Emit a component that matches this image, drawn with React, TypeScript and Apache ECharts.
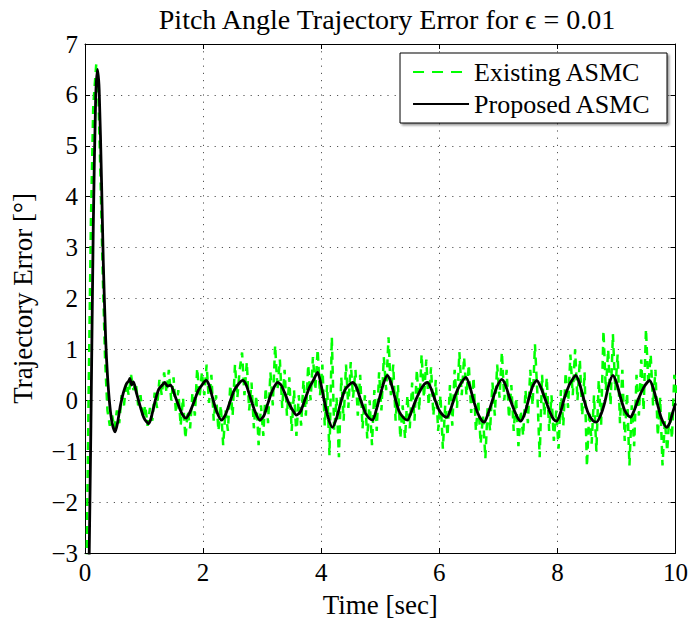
import React, { useEffect, useRef } from "react";
import * as echarts from "echarts";

const FONT = "Times New Roman";

const xRange = [0, 10];
const yRange = [-3, 7];
const xStep = 2;
const yStep = 1;

const seriesNames = ["Existing ASMC", "Proposed ASMC"];
const xName = "Time [sec]";
const yName = "Trajectory Error [\u00b0]";
const titleText = "Pitch Angle Trajectory Error for \u03f5 = 0.01";

// Proposed ASMC (black solid)
const proposedTime = [
  0.06, 0.10, 0.14, 0.18, 0.21, 0.24, 0.28, 0.31, 0.35, 0.38, 0.42, 0.46, 0.51, 0.55, 0.60, 0.65, 0.70, 0.74, 0.76, 0.79,
  0.82, 0.87, 0.93, 1.00, 1.08, 1.13, 1.19, 1.25, 1.31, 1.35, 1.40, 1.45, 1.52, 1.60, 1.66, 1.71, 1.77, 1.84, 1.92, 1.98,
  2.05, 2.10, 2.16, 2.23, 2.31, 2.38, 2.45, 2.52, 2.60, 2.67, 2.73, 2.80, 2.88, 2.96, 3.03, 3.10, 3.17, 3.26, 3.32, 3.38,
  3.45, 3.52, 3.58, 3.65, 3.72, 3.80, 3.87, 3.94, 3.99, 4.05, 4.12, 4.19, 4.26, 4.33, 4.40, 4.47, 4.53, 4.60, 4.67, 4.75,
  4.81, 4.87, 4.93, 5.00, 5.06, 5.12, 5.18, 5.25, 5.32, 5.40, 5.46, 5.52, 5.60, 5.68, 5.75, 5.80, 5.87, 5.93, 6.00, 6.07,
  6.13, 6.20, 6.27, 6.35, 6.45, 6.51, 6.58, 6.65, 6.72, 6.76, 6.83, 6.90, 6.97, 7.06, 7.12, 7.19, 7.27, 7.33, 7.38, 7.45,
  7.52, 7.59, 7.65, 7.72, 7.80, 7.88, 7.94, 7.99, 8.05, 8.12, 8.20, 8.26, 8.31, 8.37, 8.44, 8.52, 8.60, 8.66, 8.73, 8.80,
  8.87, 8.94, 9.00, 9.07, 9.14, 9.20, 9.24, 9.30, 9.38, 9.46, 9.52, 9.56, 9.62, 9.69, 9.76, 9.85, 9.90, 9.95, 10.0,
];
const proposedValue = [
  -4.0, -0.5, 3.4, 5.9, 6.5, 6.1, 4.3, 2.7, 1.2, 0.5, -0.1, -0.45, -0.62, -0.45, -0.1, 0.15, 0.32, 0.38, 0.43, 0.3,
  0.36, 0.15, -0.1, -0.35, -0.46, -0.3, 0.0, 0.22, 0.3, 0.35, 0.28, 0.3, 0.1, -0.15, -0.3, -0.35, -0.25, -0.05, 0.2, 0.3,
  0.39, 0.3, 0.05, -0.22, -0.39, -0.28, -0.05, 0.18, 0.32, 0.39, 0.3, 0.05, -0.22, -0.39, -0.3, -0.05, 0.18, 0.35, 0.3, 0.15,
  -0.05, -0.2, -0.29, -0.22, 0.0, 0.25, 0.4, 0.55, 0.35, 0.0, -0.35, -0.53, -0.35, -0.05, 0.2, 0.3, 0.35, 0.25, 0.0, -0.25,
  -0.35, -0.39, -0.2, 0.1, 0.35, 0.49, 0.35, 0.05, -0.22, -0.35, -0.39, -0.25, 0.0, 0.2, 0.32, 0.35, 0.2, 0.0, -0.2, -0.3,
  -0.33, -0.15, 0.1, 0.3, 0.45, 0.3, 0.0, -0.25, -0.4, -0.43, -0.25, 0.0, 0.25, 0.41, 0.3, 0.05, -0.2, -0.35, -0.41, -0.25,
  0.05, 0.3, 0.39, 0.25, 0.0, -0.25, -0.38, -0.41, -0.25, 0.05, 0.3, 0.42, 0.49, 0.35, 0.05, -0.25, -0.4, -0.43, -0.3, -0.05,
  0.3, 0.49, 0.35, 0.05, -0.2, -0.3, -0.33, -0.2, 0.05, 0.25, 0.35, 0.39, 0.25, -0.05, -0.35, -0.53, -0.45, -0.25, -0.06,
];

// Existing ASMC (green dashed): initial transient
const existingHeadTime = [0.02, 0.06, 0.10, 0.14, 0.19, 0.22, 0.26, 0.30, 0.34, 0.38];
const existingHeadValue = [-4.0, 0.0, 3.5, 5.8, 6.6, 6.3, 4.5, 2.5, 0.8, -0.2];
// Existing ASMC: sampled every 0.04 s from 0.42 s
const existingSampleStart = 0.42;
const existingSampleStep = 0.04;
const existingValue = [
  -0.5, -0.3, -0.55, -0.2, -0.45, 0.1, -0.1, 0.35, 0.1, 0.5, 0.2, 0.35, -0.1, 0.1, -0.35, -0.1, -0.5, -0.15, -0.4, 0.15, -0.15, 0.4, 0.1, 0.55, 0.15,
  0.6, 0.0, 0.45, -0.25, 0.2, -0.5, 0.05, -0.75, -0.2, -0.55, 0.15, -0.3, 0.63, 0.05, 0.55, 0.1, 0.7, -0.05, 0.5, -0.4, 0.1, -0.6, -0.1, -0.88, -0.2,
  -0.6, 0.3, -0.3, 0.7, 0.05, 0.6, 0.94, 0.1, 0.75, -0.2, 0.35, -0.55, 0.1, -0.88, -0.1, -0.7, 0.25, -0.45, 0.55, -0.1, 1.08, 0.2, 0.8, -0.15, 0.6,
  -0.3, 0.45, -0.6, 0.2, -0.7, 0.1, -0.5, 0.4, -0.3, 0.7, 0.0, 0.85, 0.2, 1.0, 0.1, 0.7, -0.5, 0.3, -1.08, 1.24, -0.6, 0.05, -1.12, 0.45, -0.4,
  0.7, -0.15, 0.75, 0.05, 0.6, -0.3, 0.5, -0.55, 0.1, -0.75, 0.0, -0.88, 0.2, -0.6, 0.55, -0.2, 0.85, 0.2, 1.24, 0.1, 0.7, -0.4, 0.3, -0.75, -0.1,
  -0.75, 0.1, -0.55, 0.35, -0.4, 0.6, -0.2, 0.9, 0.05, 0.8, -0.1, 0.65, -0.3, 0.4, -0.6, 0.1, -0.95, -0.1, -0.7, 0.3, -0.5, 0.6, -0.15, 0.95, 0.1,
  0.85, 0.1, 0.7, -0.25, 0.45, -0.6, 0.0, -0.85, -0.3, -1.14, -0.1, -0.6, 0.35, -0.3, 0.7, 0.05, 0.95, 0.0, 0.6, -0.35, 0.3, -0.6, 0.05, -0.9, -0.2,
  -0.7, 0.2, -0.45, 0.6, -0.1, 1.1, 0.15, -1.12, 0.5, -0.3, 0.45, -0.6, 0.1, -0.8, -0.2, -0.95, 0.2, -0.5, 0.55, -0.15, 0.9, 0.1, 1.0, 0.0, 0.8,
  -0.3, 0.55, -1.3, -0.2, -0.85, 0.1, -1.0, 0.4, -0.5, 1.37, 0.2, 1.0, -0.1, 1.3, 0.2, 0.9, -0.45, 0.6, -0.8, 0.15, -1.28, -0.1, -0.9, 0.5, -0.3,
  0.8, -0.2, 1.4, 0.3, 0.9, -0.1, 0.6, -0.7, 0.05, -1.28, -0.4, -1.0, -0.2, -0.75, 0.5, 0.1,
];

const fmtNum = (v: number) => (v < 0 ? "\u2212" + Math.abs(v) : String(v));

export default function App() {
  const ref = useRef<HTMLDivElement>(null);
  useEffect(() => {
    if (!ref.current) return;
    const chart = echarts.init(ref.current, undefined, { renderer: "svg" });

    const existingData: [number, number][] = existingHeadTime.map((t, i) => [t, existingHeadValue[i]]);
    existingValue.forEach((v, i) => {
      existingData.push([+(existingSampleStart + i * existingSampleStep).toFixed(2), v]);
    });
    const proposedData: [number, number][] = proposedTime.map((t, i) => [t, proposedValue[i]]);

    const axisLine = { show: true, onZero: false, lineStyle: { color: "#000", width: 1 } };
    const tick = { show: true, inside: true, length: 5, lineStyle: { color: "#000", width: 1 } };
    const grid = { show: true, lineStyle: { color: "#555", type: [1.2, 6], width: 1 } };

    chart.setOption({
      animation: false,
      backgroundColor: "#fff",
      textStyle: { fontFamily: FONT, color: "#000" },
      title: {
        text: titleText,
        left: 382,
        textAlign: "center",
        top: 0,
        textStyle: { fontFamily: FONT, fontSize: 28, fontWeight: "normal", color: "#000" },
      },
      grid: { left: 85, right: 14, top: 44, bottom: 74, containLabel: false },
      legend: {
        orient: "vertical",
        right: 24,
        top: 53,
        itemWidth: 56,
        itemHeight: 14,
        itemGap: 6,
        padding: [6, 16, 6, 12],
        backgroundColor: "#fff",
        borderColor: "#000",
        borderWidth: 1,
        shadowColor: "rgba(0,0,0,0.4)",
        shadowBlur: 2,
        shadowOffsetX: 2,
        shadowOffsetY: 2,
        itemStyle: { opacity: 0 },
        textStyle: { fontFamily: FONT, fontSize: 26, color: "#000" },
        data: [
          { name: seriesNames[0], lineStyle: { type: [11, 8] } },
          { name: seriesNames[1] },
        ],
      },
      xAxis: [
        {
          type: "value",
          position: "bottom",
          min: xRange[0],
          max: xRange[1],
          interval: xStep,
          axisLine,
          axisTick: tick,
          splitLine: grid,
          axisLabel: { color: "#000", fontFamily: FONT, fontSize: 25, margin: 7, formatter: fmtNum },
          name: xName,
          nameLocation: "middle",
          nameGap: 38,
          nameTextStyle: { fontFamily: FONT, fontSize: 27, color: "#000" },
        },
        {
          type: "value",
          position: "top",
          min: xRange[0],
          max: xRange[1],
          interval: xStep,
          axisLine,
          axisTick: tick,
          splitLine: { show: false },
          axisLabel: { show: false },
        },
      ],
      yAxis: [
        {
          type: "value",
          position: "left",
          min: yRange[0],
          max: yRange[1],
          interval: yStep,
          axisLine,
          axisTick: tick,
          splitLine: grid,
          axisLabel: { color: "#000", fontFamily: FONT, fontSize: 25, margin: 7, formatter: fmtNum },
          name: yName,
          nameLocation: "middle",
          nameGap: 49,
          nameTextStyle: { fontFamily: FONT, fontSize: 27, color: "#000" },
        },
        {
          type: "value",
          position: "right",
          min: yRange[0],
          max: yRange[1],
          interval: yStep,
          axisLine,
          axisTick: tick,
          splitLine: { show: false },
          axisLabel: { show: false },
        },
      ],
      series: [
        {
          name: seriesNames[0],
          type: "line",
          xAxisIndex: 0,
          yAxisIndex: 0,
          data: existingData,
          symbol: "none",
          clip: true,
          lineStyle: { color: "#00ff00", width: 2.5, type: [8, 6] },
          itemStyle: { color: "#00ff00" },
          z: 2,
        },
        {
          name: seriesNames[1],
          type: "line",
          xAxisIndex: 0,
          yAxisIndex: 0,
          data: proposedData,
          symbol: "none",
          smooth: 0.25,
          clip: true,
          lineStyle: { color: "#000", width: 2.8 },
          itemStyle: { color: "#000" },
          z: 3,
        },
      ],
    });
    return () => chart.dispose();
  }, []);
  return (
    <div
      ref={ref}
      style={{ position: "fixed", left: 0, top: 0, width: 691, height: 627, background: "#fff" }}
    />
  );
}
